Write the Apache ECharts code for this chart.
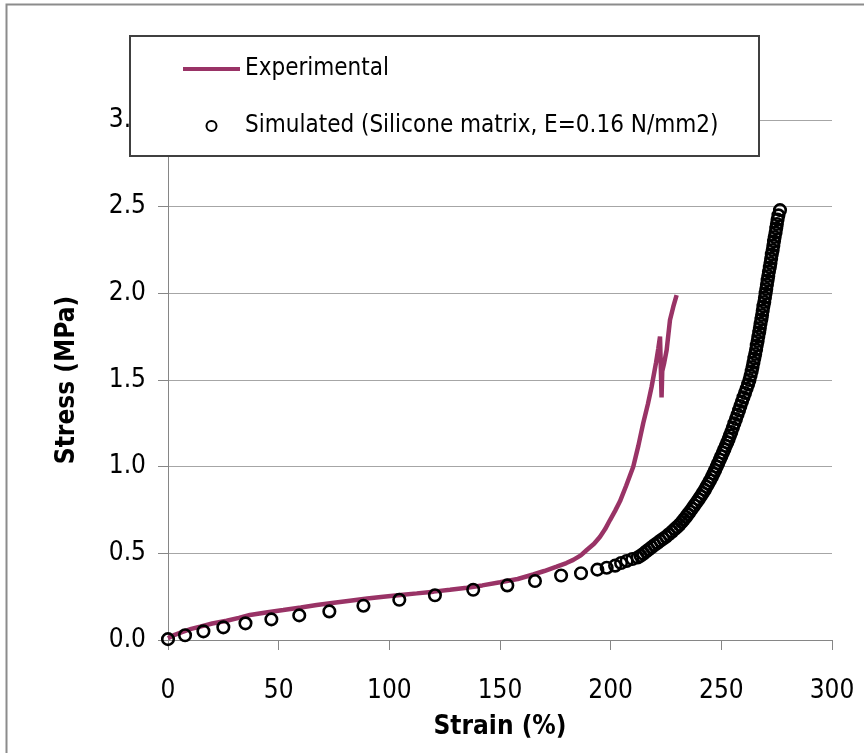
<!DOCTYPE html>
<html>
<head>
<meta charset="utf-8">
<script src="https://cdn.jsdelivr.net/npm/echarts@6/dist/echarts.min.js"></script>
<style>
html, body { margin: 0; padding: 0; background: #fff; }
#chart { width: 864px; height: 753px; }
</style>
</head>
<body>
<div id="chart"></div>
<script>
// axis ticks
var xTicks = [0, 50, 100, 150, 200, 250, 300];
var yTicks = [0.0, 0.5, 1.0, 1.5, 2.0, 2.5, 3.0];

// experimental curve: strain (%) / stress (MPa)
var expStrain = [0, 3, 6.9, 10.5, 14.5, 20, 26.5, 32, 37, 45, 52.1, 60, 67.2, 75, 82.2, 90, 97.3, 105, 112.4, 120,
    127.4, 135, 142, 150, 158, 165, 170, 175.6, 180, 183.1, 186.5, 189.2, 192.5, 195.2, 197.5, 199.7, 202, 204.2,
    207, 210.2, 212.5, 214.7, 216.8, 218.5, 220.5, 221.5, 222.3, 222.6, 223, 223.3, 224.2, 225.3, 226.8, 228.3, 229.8];
var expStress = [0.01, 0.03, 0.048, 0.064, 0.077, 0.095, 0.111, 0.128, 0.144, 0.16, 0.173, 0.188, 0.202, 0.215, 0.227, 0.239, 0.25, 0.26, 0.269, 0.279,
    0.29, 0.302, 0.315, 0.333, 0.352, 0.378, 0.398, 0.423, 0.444, 0.462, 0.488, 0.519, 0.555, 0.596, 0.64, 0.692, 0.745, 0.8,
    0.89, 1.0, 1.12, 1.25, 1.36, 1.461, 1.6, 1.68, 1.75, 1.6, 1.4, 1.55, 1.6, 1.673, 1.846, 1.923, 1.99];

// simulated points (silicone matrix, E=0.16 N/mm2)
var simStrain = [0, 7.7, 16, 25, 35, 46.7, 59.3, 72.9, 88.3, 104.5, 120.6, 137.9, 153.3, 165.8, 177.6, 186.6, 194, 198.2, 202, 204.7,
    207.2, 209.8, 212.2,
    213.5, 214.8, 216.0, 217.2, 218.5, 219.8, 221.1, 222.4, 223.7, 225.0, 226.3, 227.7, 229.0, 230.0, 231.1, 232.1, 233.1, 234.0, 234.9, 235.8,
    236.8, 237.8, 238.8, 239.8, 240.7, 241.6, 242.5, 243.3, 244.1, 244.9, 245.7, 246.5, 247.2, 247.9, 248.6, 249.3, 250.0, 250.7, 251.4, 252.0,
    252.7, 253.3, 253.9, 254.5, 255.2, 255.9, 256.6, 257.3, 258.0, 258.6, 259.3, 260.0, 260.7, 261.4, 262.1, 262.7, 263.2, 263.7, 264.1, 264.5,
    264.9, 265.3, 265.7, 266.0, 266.4, 266.7, 267.1, 267.4, 267.7, 268.1, 268.4, 268.7, 269.0, 269.4, 269.7, 270.0, 270.3, 270.6, 270.9, 271.2,
    271.5, 271.9, 272.2, 272.5, 272.8, 273.2, 273.5, 273.8, 274.1, 274.5, 274.8, 275.1, 275.4, 275.8, 276.5];
var simStress = [0.005, 0.027, 0.05, 0.073, 0.096, 0.119, 0.142, 0.165, 0.198, 0.232, 0.258, 0.29, 0.315, 0.34, 0.372, 0.385, 0.406, 0.417, 0.429, 0.444,
    0.456, 0.467, 0.476,
    0.486, 0.498, 0.510, 0.522, 0.535, 0.548, 0.560, 0.572, 0.584, 0.596, 0.610, 0.625, 0.640, 0.652, 0.665, 0.680, 0.695, 0.710, 0.725, 0.740,
    0.758, 0.776, 0.794, 0.812, 0.830, 0.848, 0.866, 0.884, 0.902, 0.920, 0.940, 0.960, 0.980, 1.000, 1.020, 1.040, 1.060, 1.080, 1.100, 1.120,
    1.140, 1.160, 1.180, 1.200, 1.225, 1.250, 1.275, 1.300, 1.325, 1.350, 1.375, 1.400, 1.425, 1.450, 1.475, 1.500, 1.525, 1.550, 1.575, 1.600,
    1.625, 1.650, 1.675, 1.700, 1.725, 1.750, 1.775, 1.800, 1.825, 1.850, 1.875, 1.900, 1.925, 1.950, 1.975, 2.000, 2.025, 2.050, 2.075, 2.100,
    2.125, 2.150, 2.175, 2.200, 2.225, 2.250, 2.275, 2.300, 2.325, 2.350, 2.375, 2.400, 2.425, 2.450, 2.480];

var FONT = "'DejaVu Sans Condensed', 'DejaVu Sans', sans-serif";

var expData = [];
for (var i = 0; i < expStrain.length; i++) {
    expData.push([expStrain[i], expStress[i]]);
}
var simData = [];
for (var j = 0; j < simStrain.length; j++) {
    simData.push([simStrain[j], simStress[j]]);
}

var myChart = echarts.init(document.getElementById('chart'));
var option = {
    backgroundColor: '#fff',
    animation: false,
    grid: { left: 168, right: 32, top: 120, bottom: 113 },
    graphic: {
        elements: [
            // outer chart border
            { type: 'rect', z: 0, shape: { x: 6.5, y: 4.5, width: 900, height: 800 },
              style: { fill: 'none', stroke: '#8c8c8c', lineWidth: 2 } },
            // legend box
            { type: 'rect', z: 10, shape: { x: 130, y: 36, width: 629, height: 120 },
              style: { fill: '#fff', stroke: '#404040', lineWidth: 2 } }
        ]
    },
    legend: {
        z: 20,
        orient: 'vertical',
        left: 183,
        top: 54,
        padding: 0,
        itemGap: 27,
        itemWidth: 57,
        itemHeight: 10,
        itemTextGap: 4,
        textStyle: { fontFamily: FONT, fontSize: 24, lineHeight: 30, color: '#000' },
        data: [
            { name: 'Experimental', icon: 'path://M0,0L57,0L57,4L0,4Z' },
            { name: 'Simulated (Silicone matrix, E=0.16 N/mm2)' }
        ]
    },
    xAxis: {
        type: 'value',
        min: xTicks[0],
        max: xTicks[xTicks.length - 1],
        interval: 50,
        name: 'Strain (%)',
        nameLocation: 'middle',
        nameGap: 74,
        nameTextStyle: { fontFamily: FONT, fontSize: 26, fontWeight: 'bold', color: '#000' },
        axisLine: { lineStyle: { color: '#868686', width: 1 } },
        axisTick: { length: 10, lineStyle: { color: '#868686' } },
        axisLabel: { margin: 38, fontFamily: FONT, fontSize: 26, color: '#000' },
        splitLine: { show: false }
    },
    yAxis: {
        type: 'value',
        min: yTicks[0],
        max: yTicks[yTicks.length - 1],
        interval: 0.5,
        name: 'Stress (MPa)',
        nameLocation: 'middle',
        nameGap: 88,
        nameTextStyle: { fontFamily: FONT, fontSize: 26, fontWeight: 'bold', color: '#000' },
        axisLine: { show: true, lineStyle: { color: '#868686', width: 1 } },
        axisTick: { show: true, length: 10, lineStyle: { color: '#868686' } },
        axisLabel: {
            margin: 22, fontFamily: FONT, fontSize: 26, color: '#000',
            formatter: function (v) { return v.toFixed(1); }
        },
        splitLine: { show: true, lineStyle: { color: '#a6a6a6', width: 1 } }
    },
    series: [
        {
            name: 'Experimental',
            type: 'line',
            data: expData,
            symbol: 'none',
            lineStyle: { color: '#993366', width: 4.5 },
            itemStyle: { color: '#993366' },
            z: 2
        },
        {
            name: 'Simulated (Silicone matrix, E=0.16 N/mm2)',
            type: 'scatter',
            data: simData,
            symbol: 'circle',
            symbolSize: 11.5,
            itemStyle: { color: 'rgba(255,255,255,0)', borderColor: '#000', borderWidth: 2.6, opacity: 1 },
            z: 3
        }
    ]
};
myChart.setOption(option);
</script>
</body>
</html>
